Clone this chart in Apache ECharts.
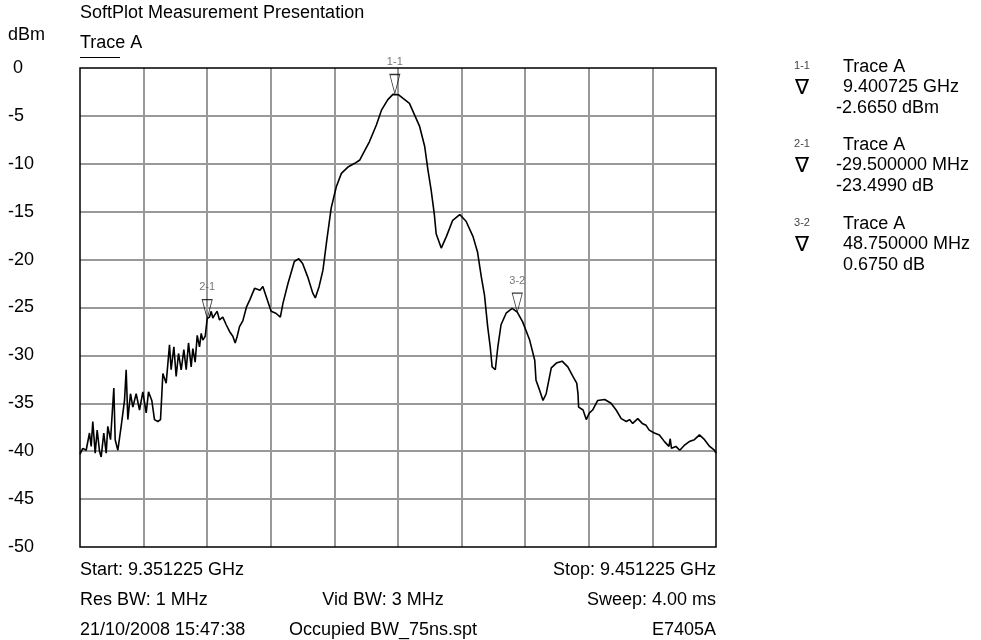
<!DOCTYPE html>
<html lang="en">
<head>
<meta charset="UTF-8">
<title>SoftPlot Measurement Presentation</title>
<style>
  html, body { margin: 0; padding: 0; background: #fff; }
  #chart { width: 981px; height: 640px; }
</style>
</head>
<body>
<div id="chart"></div>
<script src="https://cdn.jsdelivr.net/npm/echarts@6.0.0/dist/echarts.min.js"></script>
<script>
// trace A, x = MHz from start (9.351225 GHz), y = dBm
var traceX = [0, 0.44, 0.97, 1.49, 1.76, 2.01, 2.39, 2.70, 3.07, 3.33, 3.74, 4.12, 4.37, 4.80, 5.32, 5.53, 5.95,
    6.47, 7.00, 7.26, 7.52, 7.94, 8.31, 8.83, 9.36, 9.88, 10.41, 10.77, 11.29, 11.71, 12.24, 12.66, 12.87, 13.03,
    13.55, 14.07, 14.33, 14.76, 15.12, 15.49, 15.91, 16.33, 16.70, 17.06, 17.48, 17.74, 18.11, 18.43, 18.79, 19.06,
    19.31, 19.69, 20.0, 20.36, 20.63, 20.88, 21.15, 21.57, 21.93, 22.45, 22.99, 23.51, 24.03, 24.40, 24.72, 25.08,
    25.6, 26.2, 26.7, 27.45, 28.3, 28.75, 29.3, 30.05, 30.8, 31.5, 31.9, 32.7, 33.7, 34.4, 35.0, 35.8, 36.6, 37.0,
    37.6, 38.2, 38.8, 39.5, 40.3, 41.1, 42.2, 43.2, 44.0, 44.7, 45.5, 46.6, 47.4, 48.4, 49.2, 49.5, 50.1, 51.8,
    52.6, 53.4, 54.2, 54.7, 55.2, 55.7, 56.0, 56.8, 57.6, 58.6, 59.7, 60.7, 61.8, 62.5, 63.1, 63.6, 64.1, 64.5,
    64.8, 65.3, 65.7, 66.2, 67.0, 67.95, 68.75, 69.6, 70.7, 71.5, 71.7, 72.25, 72.8, 73.3, 74.1, 74.9, 75.8, 76.7,
    77.5, 78.1, 78.3, 78.4, 79.1, 79.6, 80.1, 80.6, 81.4, 82.5, 83.5, 84.3, 85.1, 85.9, 86.4, 86.9, 87.7, 88.4,
    89.0, 89.5, 90.3, 91.1, 91.9, 92.6, 92.8, 93.0, 93.7, 94.3, 95.0, 95.8, 96.6, 97.4, 98.2, 99.0, 99.75, 100];
var traceY = [-40.3, -39.7, -39.9, -38.1, -39.5, -36.9, -40.2, -37.8, -40.0, -40.6, -38.1, -40.2, -37.4, -38.8,
    -33.4, -38.8, -39.9, -37.4, -34.7, -31.5, -36.7, -34.0, -35.4, -34.0, -35.7, -33.8, -36.0, -33.8, -34.7, -36.7,
    -36.9, -36.7, -34.0, -31.9, -32.9, -28.9, -31.5, -29.1, -32.2, -29.8, -31.5, -29.4, -31.5, -28.7, -31.2, -29.3,
    -30.7, -27.9, -29.1, -27.7, -28.4, -28.0, -26.16, -26.0, -25.4, -26.1, -25.8, -25.4, -26.3, -26.0, -26.8, -27.5,
    -28.0, -28.7, -28.0, -27.0, -26.4, -24.9, -24.2, -23.0, -23.2, -22.8, -23.9, -25.4, -25.6, -26.0, -24.6, -22.5,
    -20.2, -19.9, -20.4, -21.8, -23.5, -24.0, -22.8, -21.1, -18.0, -14.6, -12.4, -11.0, -10.3, -9.95, -9.6, -8.7,
    -7.7, -5.95, -4.4, -3.3, -2.75, -2.665, -2.8, -3.7, -4.9, -6.1, -8.2, -10.6, -12.7, -15.2, -17.3, -18.8, -17.6,
    -15.9, -15.3, -16.0, -17.6, -19.2, -21.8, -23.7, -27.0, -29.1, -31.2, -31.5, -29.1, -26.8, -25.6, -25.1, -25.489,
    -26.5, -28.4, -30.5, -32.6, -33.6, -34.7, -34.0, -31.3, -30.8, -30.6, -31.2, -32.2, -32.9, -34.0, -35.4, -35.7,
    -36.7, -36.0, -35.7, -34.7, -34.6, -35.0, -35.7, -36.6, -36.9, -36.7, -37.1, -36.6, -37.1, -37.3, -37.8, -38.1,
    -38.3, -39.0, -39.5, -38.7, -39.7, -39.5, -39.9, -39.4, -39.0, -38.8, -38.3, -38.8, -39.5, -39.9, -40.2];

// markers
var markerNames = ['1-1', '2-1', '3-2'];
var markerX = [49.5, 20.0, 68.75];
var markerY = [-2.665, -26.164, -25.489];

// marker readout on the right
var readoutTags = ['1-1', '2-1', '3-2'];
var readoutLines = [
    ['Trace A', '9.400725 GHz', '-2.6650 dBm'],
    ['Trace A', '-29.500000 MHz', '-23.4990 dB'],
    ['Trace A', '48.750000 MHz', '0.6750 dB']
];

// footer
var footerLeft = ['Start: 9.351225 GHz', 'Res BW: 1 MHz', '21/10/2008 15:47:38'];
var footerMid = ['', 'Vid BW: 3 MHz', 'Occupied BW_75ns.spt'];
var footerRight = ['Stop: 9.451225 GHz', 'Sweep: 4.00 ms', 'E7405A'];

var FONT = '"Liberation Sans", Arial, sans-serif';
var FS = 18;

var traceData = [];
for (var i = 0; i < traceX.length; i++) {
    traceData.push([traceX[i], traceY[i]]);
}
var markerData = [];
for (var j = 0; j < markerX.length; j++) {
    markerData.push({name: markerNames[j], value: [markerX[j], markerY[j]]});
}

function txt(x, y, s, size, color, align) {
    return {
        type: 'text', x: x, y: y, silent: true,
        style: {
            text: s, fill: color || '#000', font: size + 'px ' + FONT,
            align: align || 'left', verticalAlign: 'middle'
        }
    };
}

var graphics = [];
graphics.push(txt(80, 13, 'SoftPlot Measurement Presentation', FS));
graphics.push(txt(8, 35, 'dBm', FS));
graphics.push(txt(80, 43, 'Trace A', FS));
graphics.push({
    type: 'line', silent: true,
    shape: {x1: 80, y1: 57.5, x2: 120, y2: 57.5},
    style: {stroke: '#000', lineWidth: 1}
});

var blockY = [67, 145, 224];
for (var k = 0; k < readoutLines.length; k++) {
    var by = blockY[k];
    graphics.push(txt(802, by - 1, readoutTags[k], 11, '#444', 'center'));
    graphics.push(txt(802, by + 21, '\u2207', 21, '#000', 'center'));
    for (var m = 0; m < 3; m++) {
        var s = readoutLines[k][m];
        graphics.push(txt(s.charAt(0) === '-' ? 836 : 843, by + m * 20.5, s, FS));
    }
}

var footY = [570, 600, 630];
for (var f = 0; f < 3; f++) {
    graphics.push(txt(80, footY[f], footerLeft[f], FS));
    if (footerMid[f]) graphics.push(txt(383, footY[f], footerMid[f], FS, '#000', 'center'));
    graphics.push(txt(716, footY[f], footerRight[f], FS, '#000', 'right'));
}

var chart = echarts.init(document.getElementById('chart'), null, {renderer: 'canvas'});
var option = {
    animation: false,
    backgroundColor: '#fff',
    grid: {
        left: 80, right: 265, top: 68, bottom: 93,
        show: true, borderColor: '#000', borderWidth: 1.5, backgroundColor: 'transparent', z: 5
    },
    xAxis: {
        type: 'value', min: 0, max: 100, interval: 10,
        axisLine: {show: false}, axisTick: {show: false}, axisLabel: {show: false},
        splitLine: {show: true, showMinLine: false, showMaxLine: false, lineStyle: {color: '#999', width: 2}}
    },
    yAxis: {
        type: 'value', min: -50, max: 0, interval: 5,
        axisLine: {show: false}, axisTick: {show: false},
        axisLabel: {
            align: 'left', margin: 72, color: '#000', fontSize: FS, fontFamily: FONT,
            formatter: function (v) { return v === 0 ? ' 0' : String(v); }
        },
        splitLine: {show: true, showMinLine: false, showMaxLine: false, lineStyle: {color: '#999', width: 2}}
    },
    graphic: graphics,
    series: [
        {
            type: 'line', data: traceData, showSymbol: false, symbol: 'none', smooth: false,
            lineStyle: {color: '#000', width: 1.6}, z: 3, silent: true
        },
        {
            type: 'scatter', data: markerData, z: 4, silent: true,
            symbol: 'path://M0,0 L10,0 L5,19 Z', symbolKeepAspect: false,
            symbolSize: [10, 19], symbolOffset: [0, -9.5],
            itemStyle: {color: 'rgba(255,255,255,0)', borderColor: '#000', borderWidth: 1},
            label: {
                show: true, position: 'top', distance: 6, formatter: '{b}',
                color: '#555', fontSize: 11, fontFamily: FONT
            }
        }
    ]
};
chart.setOption(option);
</script>
</body>
</html>
